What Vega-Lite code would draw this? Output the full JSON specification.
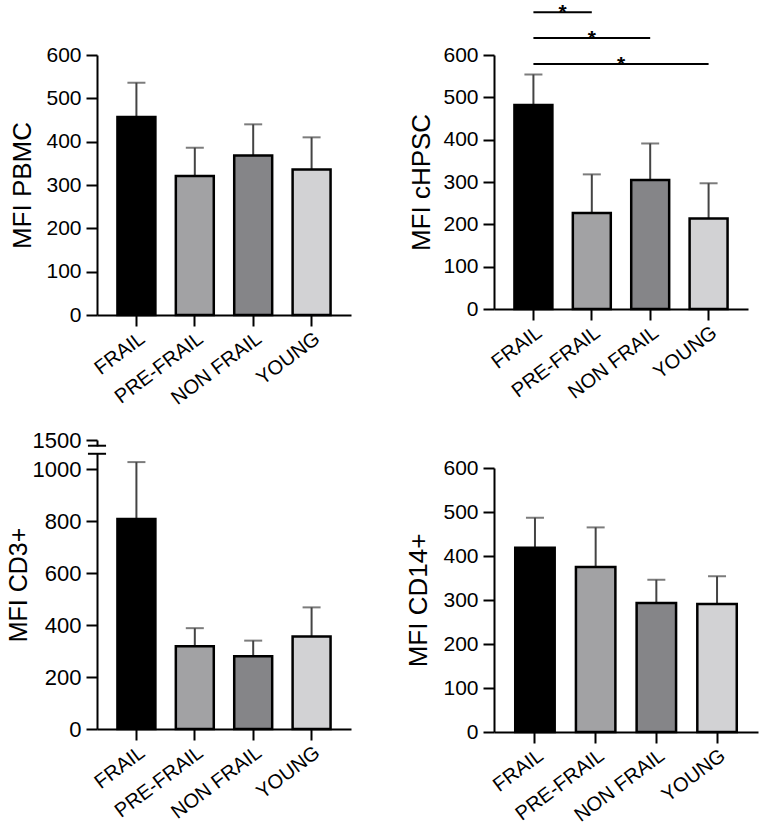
{
  "$schema": "https://vega.github.io/schema/vega-lite/v6.json",
  "autosize": {"type": "none"},
  "padding": {"left": 97, "top": 55, "right": 663, "bottom": 774},
  "background": "white",
  "config": {
    "font": "Liberation Sans",
    "view": {"stroke": null},
    "axis": {
      "domainColor": "#000", "domainWidth": 2, "tickColor": "#000", "tickWidth": 2, "tickSize": 11,
      "labelColor": "#000", "labelFontSize": 21, "labelPadding": 5,
      "titleColor": "#000", "titleFontSize": 26, "titleFontWeight": "normal", "grid": false
    },
    "axisX": {"labelAngle": -37, "labelFontSize": 20, "labelPadding": 2, "title": null}
  },
  "datasets": {
    "pbmc": [
      {"group": "FRAIL", "mean": 457, "upper": 536},
      {"group": "PRE-FRAIL", "mean": 321, "upper": 386},
      {"group": "NON FRAIL", "mean": 368, "upper": 440},
      {"group": "YOUNG", "mean": 336, "upper": 410}
    ],
    "chpsc": [
      {"group": "FRAIL", "mean": 482, "upper": 554},
      {"group": "PRE-FRAIL", "mean": 227, "upper": 318},
      {"group": "NON FRAIL", "mean": 305, "upper": 391},
      {"group": "YOUNG", "mean": 214, "upper": 297}
    ],
    "cd3": [
      {"group": "FRAIL", "mean": 808, "upper": 1027},
      {"group": "PRE-FRAIL", "mean": 318, "upper": 388},
      {"group": "NON FRAIL", "mean": 280, "upper": 340},
      {"group": "YOUNG", "mean": 356, "upper": 468}
    ],
    "cd14": [
      {"group": "FRAIL", "mean": 419, "upper": 487},
      {"group": "PRE-FRAIL", "mean": 375, "upper": 465},
      {"group": "NON FRAIL", "mean": 293, "upper": 346},
      {"group": "YOUNG", "mean": 291, "upper": 354}
    ],
    "sig": [
      {"x1": 0, "x2": 1, "mid": 0.5, "y": 701, "label": "*"},
      {"x1": 0, "x2": 2, "mid": 1, "y": 640, "label": "*"},
      {"x1": 0, "x2": 3, "mid": 1.5, "y": 579, "label": "*"}
    ],
    "brk": [
      {"x1": -0.83, "x2": -0.52, "y": 1090},
      {"x1": -0.83, "x2": -0.52, "y": 1059}
    ],
    "gap": [
      {"x1": -0.72, "x2": -0.63, "y": 1062, "y2": 1087}
    ]
  },
  "bounds": "flush",
  "spacing": 397,
  "hconcat": [
    {
      "bounds": "flush",
      "spacing": 125,
      "vconcat": [
        {
          "width": 254, "height": 260,
          "data": {"name": "pbmc"},
          "layer": [
            {"mark": {"type": "rule", "color": "#444", "strokeWidth": 2},
             "encoding": {
               "x": {"field": "group", "type": "nominal", "sort": null, "scale": {"domain": ["FRAIL", "PRE-FRAIL", "NON FRAIL", "YOUNG"], "paddingInner": 0.35, "paddingOuter": 0.35}},
               "y": {"field": "mean", "type": "quantitative", "title": "MFI PBMC", "scale": {"domain": [0, 600], "nice": false}, "axis": {"values": [0, 100, 200, 300, 400, 500, 600], "titlePadding": 10}},
               "y2": {"field": "upper"}}},
            {"mark": {"type": "tick", "color": "#444", "thickness": 2, "size": 18},
             "encoding": {
               "x": {"field": "group", "type": "nominal", "sort": null},
               "y": {"field": "upper", "type": "quantitative", "title": "MFI PBMC"}}},
            {"mark": {"type": "bar", "stroke": "#000", "strokeWidth": 2.5},
             "encoding": {
               "x": {"field": "group", "type": "nominal", "sort": null},
               "y": {"field": "mean", "type": "quantitative", "title": "MFI PBMC"},
               "fill": {"field": "group", "type": "nominal", "legend": null, "scale": {"domain": ["FRAIL", "PRE-FRAIL", "NON FRAIL", "YOUNG"], "range": ["#000000", "#a2a2a4", "#858588", "#d2d2d4"]}}}}
          ]
        },
        {
          "width": 254, "height": 289,
          "layer": [
            {
              "data": {"name": "cd3"},
              "layer": [
                {"mark": {"type": "rule", "color": "#444", "strokeWidth": 2},
                 "encoding": {
                   "x": {"field": "group", "type": "nominal", "sort": null, "scale": {"domain": ["FRAIL", "PRE-FRAIL", "NON FRAIL", "YOUNG"], "paddingInner": 0.35, "paddingOuter": 0.35}},
                   "y": {"field": "mean", "type": "quantitative", "title": "MFI CD3+", "scale": {"domain": [0, 1112], "nice": false}, "axis": {"values": [0, 200, 400, 600, 800, 1000, 1112], "labelExpr": "datum.value > 1100 ? '1500' : format(datum.value, 'd')", "labelFontSize": 22, "titlePadding": 1, "titleFontSize": 25}},
                   "y2": {"field": "upper"}}},
                {"mark": {"type": "tick", "color": "#444", "thickness": 2, "size": 18},
                 "encoding": {
                   "x": {"field": "group", "type": "nominal", "sort": null},
                   "y": {"field": "upper", "type": "quantitative", "title": "MFI CD3+"}}},
                {"mark": {"type": "bar", "stroke": "#000", "strokeWidth": 2.5},
                 "encoding": {
                   "x": {"field": "group", "type": "nominal", "sort": null},
                   "y": {"field": "mean", "type": "quantitative", "title": "MFI CD3+"},
                   "fill": {"field": "group", "type": "nominal", "legend": null, "scale": {"domain": ["FRAIL", "PRE-FRAIL", "NON FRAIL", "YOUNG"], "range": ["#000000", "#a2a2a4", "#858588", "#d2d2d4"]}}}}
              ]
            },
            {
              "data": {"name": "gap"},
              "mark": {"type": "rect", "fill": "white"},
              "encoding": {
                "x": {"field": "x1", "type": "quantitative", "scale": {"domain": [-0.675, 3.675], "nice": false, "zero": false}, "axis": null},
                "x2": {"field": "x2"},
                "y": {"field": "y", "type": "quantitative", "title": "MFI CD3+"},
                "y2": {"field": "y2"}
              }
            },
            {
              "data": {"name": "brk"},
              "mark": {"type": "rule", "color": "#000", "strokeWidth": 2},
              "encoding": {
                "x": {"field": "x1", "type": "quantitative", "scale": {"domain": [-0.675, 3.675], "nice": false, "zero": false}, "axis": null},
                "x2": {"field": "x2"},
                "y": {"field": "y", "type": "quantitative", "title": "MFI CD3+"}
              }
            }
          ],
          "resolve": {"scale": {"x": "independent"}, "axis": {"x": "independent"}}
        }
      ]
    },
    {
      "bounds": "flush",
      "spacing": 159,
      "vconcat": [
        {
          "width": 254, "height": 254,
          "layer": [
            {
              "data": {"name": "chpsc"},
              "layer": [
                {"mark": {"type": "rule", "color": "#444", "strokeWidth": 2},
                 "encoding": {
                   "x": {"field": "group", "type": "nominal", "sort": null, "scale": {"domain": ["FRAIL", "PRE-FRAIL", "NON FRAIL", "YOUNG"], "paddingInner": 0.35, "paddingOuter": 0.35}},
                   "y": {"field": "mean", "type": "quantitative", "title": "MFI cHPSC", "scale": {"domain": [0, 600], "nice": false}, "axis": {"values": [0, 100, 200, 300, 400, 500, 600], "titlePadding": 8}},
                   "y2": {"field": "upper"}}},
                {"mark": {"type": "tick", "color": "#444", "thickness": 2, "size": 18},
                 "encoding": {
                   "x": {"field": "group", "type": "nominal", "sort": null},
                   "y": {"field": "upper", "type": "quantitative", "title": "MFI cHPSC"}}},
                {"mark": {"type": "bar", "stroke": "#000", "strokeWidth": 2.5},
                 "encoding": {
                   "x": {"field": "group", "type": "nominal", "sort": null},
                   "y": {"field": "mean", "type": "quantitative", "title": "MFI cHPSC"},
                   "fill": {"field": "group", "type": "nominal", "legend": null, "scale": {"domain": ["FRAIL", "PRE-FRAIL", "NON FRAIL", "YOUNG"], "range": ["#000000", "#a2a2a4", "#858588", "#d2d2d4"]}}}}
              ]
            },
            {
              "data": {"name": "sig"},
              "layer": [
                {"mark": {"type": "rule", "color": "#000", "strokeWidth": 2},
                 "encoding": {
                   "x": {"field": "x1", "type": "quantitative", "scale": {"domain": [-0.675, 3.675], "nice": false, "zero": false}, "axis": null},
                   "x2": {"field": "x2"},
                   "y": {"field": "y", "type": "quantitative", "title": "MFI cHPSC"}}},
                {"mark": {"type": "text", "fontSize": 21, "fontWeight": "bold", "baseline": "alphabetic", "dy": 7, "color": "#000"},
                 "encoding": {
                   "x": {"field": "mid", "type": "quantitative"},
                   "y": {"field": "y", "type": "quantitative", "title": "MFI cHPSC"},
                   "text": {"field": "label"}}}
              ]
            }
          ],
          "resolve": {"scale": {"x": "independent"}, "axis": {"x": "independent"}}
        },
        {
          "width": 264, "height": 264,
          "data": {"name": "cd14"},
          "layer": [
            {"mark": {"type": "rule", "color": "#444", "strokeWidth": 2},
             "encoding": {
               "x": {"field": "group", "type": "nominal", "sort": null, "scale": {"domain": ["FRAIL", "PRE-FRAIL", "NON FRAIL", "YOUNG"], "paddingInner": 0.35, "paddingOuter": 0.35}},
               "y": {"field": "mean", "type": "quantitative", "title": "MFI CD14+", "scale": {"domain": [0, 600], "nice": false}, "axis": {"values": [0, 100, 200, 300, 400, 500, 600], "titlePadding": 11}},
               "y2": {"field": "upper"}}},
            {"mark": {"type": "tick", "color": "#444", "thickness": 2, "size": 18},
             "encoding": {
               "x": {"field": "group", "type": "nominal", "sort": null},
               "y": {"field": "upper", "type": "quantitative", "title": "MFI CD14+"}}},
            {"mark": {"type": "bar", "stroke": "#000", "strokeWidth": 2.5},
             "encoding": {
               "x": {"field": "group", "type": "nominal", "sort": null},
               "y": {"field": "mean", "type": "quantitative", "title": "MFI CD14+"},
               "fill": {"field": "group", "type": "nominal", "legend": null, "scale": {"domain": ["FRAIL", "PRE-FRAIL", "NON FRAIL", "YOUNG"], "range": ["#000000", "#a2a2a4", "#858588", "#d2d2d4"]}}}}
          ]
        }
      ]
    }
  ]
}
